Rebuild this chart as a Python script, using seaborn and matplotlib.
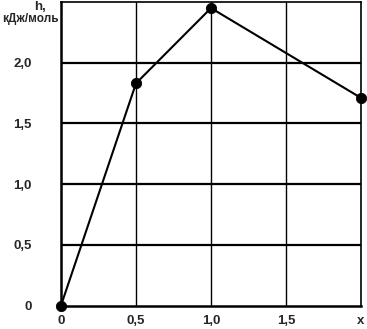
import matplotlib
matplotlib.use("Agg")
import matplotlib.pyplot as plt
import seaborn as sns
import pandas as pd

x_vals = [0.0, 0.5, 1.0, 2.0]
h_vals = [0.0, 1.83, 2.45, 1.71]
x_ticks = [0.0, 0.5, 1.0, 1.5, 2.0]
x_tick_labels = ["0", "0,5", "1,0", "1,5", "x"]
y_ticks = [0.0, 0.5, 1.0, 1.5, 2.0]
y_tick_labels = ["0", "0,5", "1,0", "1,5", "2,0"]

sns.set_style("white")
plt.rcParams['font.family'] = ['Liberation Sans', 'DejaVu Sans']

df = pd.DataFrame({"x": x_vals, "h": h_vals})

fig = plt.figure(figsize=(3.67, 3.29), dpi=100)
ax = fig.add_axes([61/367, (329-305.5)/329, 300/367, (305.5-2)/329])

for yv in y_ticks[1:]:
    ax.axhline(yv, color="black", lw=1.6, zorder=1)
for xv in x_ticks[1:-1]:
    ax.axvline(xv, color="black", lw=1.0, zorder=1)

sns.lineplot(data=df, x="x", y="h", ax=ax, color="black", lw=1.5, zorder=3)
sns.scatterplot(data=df, x="x", y="h", ax=ax, color="black", s=55, zorder=4,
                edgecolor="black", clip_on=False)

ax.set_xlim(0, 2.0)
ax.set_ylim(0, 2.5)
ax.set_xticks(x_ticks)
ax.set_xticklabels(x_tick_labels, fontsize=9.5, fontweight="bold")
ax.set_yticks(y_ticks)
ax.set_yticklabels(y_tick_labels, fontsize=9.5, fontweight="bold")
ax.tick_params(axis="x", length=0, pad=7)
ax.tick_params(axis="y", length=0, pad=21)
ax.set_xlabel("")
ax.set_ylabel("")
for side in ["left", "bottom"]:
    ax.spines[side].set_linewidth(1.8)
    ax.spines[side].set_color("black")
for side in ["top", "right"]:
    ax.spines[side].set_linewidth(1.2)
    ax.spines[side].set_color("black")

fig.text(40/367, 1 - 12.5/329, "h,", fontsize=9.5, fontweight="bold", ha="center", va="bottom")
fig.text(30/367, 1 - 13/329, "кДж/моль", fontsize=8.5, fontweight="bold", ha="center", va="top")

fig.savefig("out.png", dpi=100)
